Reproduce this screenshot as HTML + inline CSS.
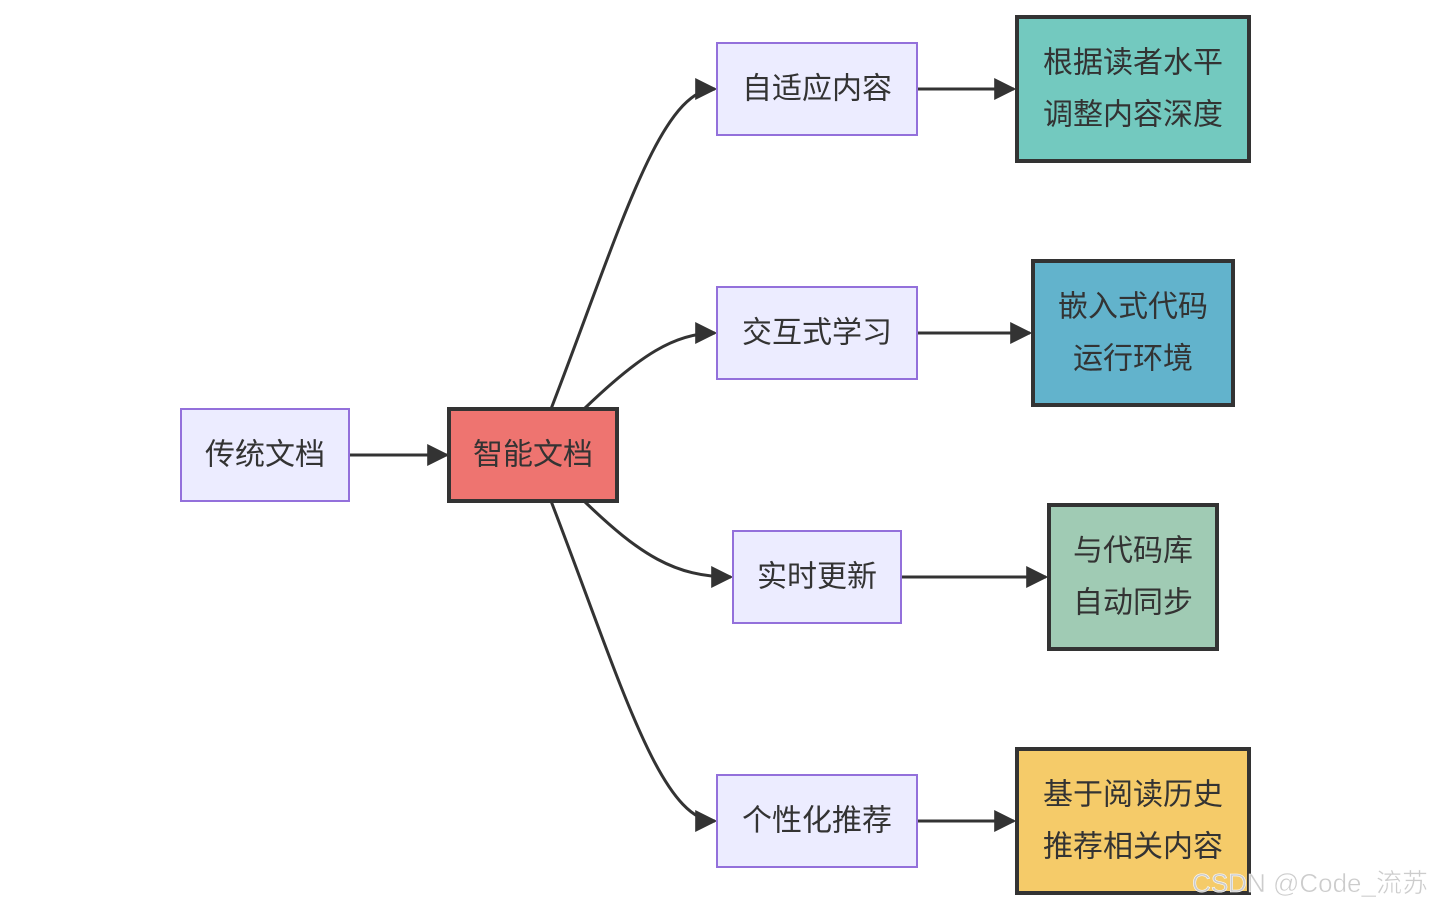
<!DOCTYPE html>
<html><head><meta charset="utf-8"><style>
html,body{margin:0;padding:0;background:#fff;}
svg text{font-family:"Liberation Sans","Noto Sans CJK SC",sans-serif;font-size:30px;fill:#333;text-anchor:middle;dominant-baseline:central;}
</style></head><body>
<svg width="1430" height="909" viewBox="0 0 1430 909" xmlns="http://www.w3.org/2000/svg">
<defs><marker id="a" viewBox="0 0 10 10" refX="10" refY="5" markerWidth="7" markerHeight="7" markerUnits="userSpaceOnUse" orient="auto"><path d="M0,0L10,5L0,10z" fill="#333"/></marker>
<marker id="b" viewBox="0 0 10 10" refX="9" refY="5" markerWidth="22" markerHeight="22" markerUnits="userSpaceOnUse" orient="auto"><path d="M0,0L10,5L0,10z" fill="#333"/></marker></defs>
<g fill="none" stroke="#333" stroke-width="3" marker-end="url(#b)">
<path d="M349,455L447,455"/>
<path d="M551,409C620,230 660,89 715,89"/>
<path d="M584,409C640,355 675,333 715,333"/>
<path d="M584,501C640,555 675,577 731,577"/>
<path d="M551,501C620,680 660,821 715,821"/>
<path d="M917,89L1014,89"/>
<path d="M917,333L1030,333"/>
<path d="M901,577L1046,577"/>
<path d="M917,821L1014,821"/>
</g>
<g fill="#ECECFF" stroke="#9370DB" stroke-width="2">
<rect x="181" y="409" width="168" height="92"/>
<rect x="717" y="43" width="200" height="92"/>
<rect x="717" y="287" width="200" height="92"/>
<rect x="733" y="531" width="168" height="92"/>
<rect x="717" y="775" width="200" height="92"/>
</g>
<g stroke="#333" stroke-width="4">
<rect x="449" y="409" width="168" height="92" fill="#EE7470"/>
<rect x="1017" y="17" width="232" height="144" fill="#73C9BF"/>
<rect x="1033" y="261" width="200" height="144" fill="#62B3CC"/>
<rect x="1049" y="505" width="168" height="144" fill="#A0CBB4"/>
<rect x="1017" y="749" width="232" height="144" fill="#F5CB69"/>
</g>
<text x="265" y="455">传统文档</text>
<text x="533" y="455">智能文档</text>
<text x="817" y="89">自适应内容</text>
<text x="817" y="333">交互式学习</text>
<text x="817" y="577">实时更新</text>
<text x="817" y="821">个性化推荐</text>
<text x="1133" y="63">根据读者水平</text>
<text x="1133" y="115">调整内容深度</text>
<text x="1133" y="307">嵌入式代码</text>
<text x="1133" y="359">运行环境</text>
<text x="1133" y="551">与代码库</text>
<text x="1133" y="603">自动同步</text>
<text x="1133" y="795">基于阅读历史</text>
<text x="1133" y="847">推荐相关内容</text>
<text x="1310" y="883" style="font-size:26px;fill:#ccc;stroke:#fff;stroke-width:0.5">CSDN @Code_流苏</text>
</svg>
</body></html>
